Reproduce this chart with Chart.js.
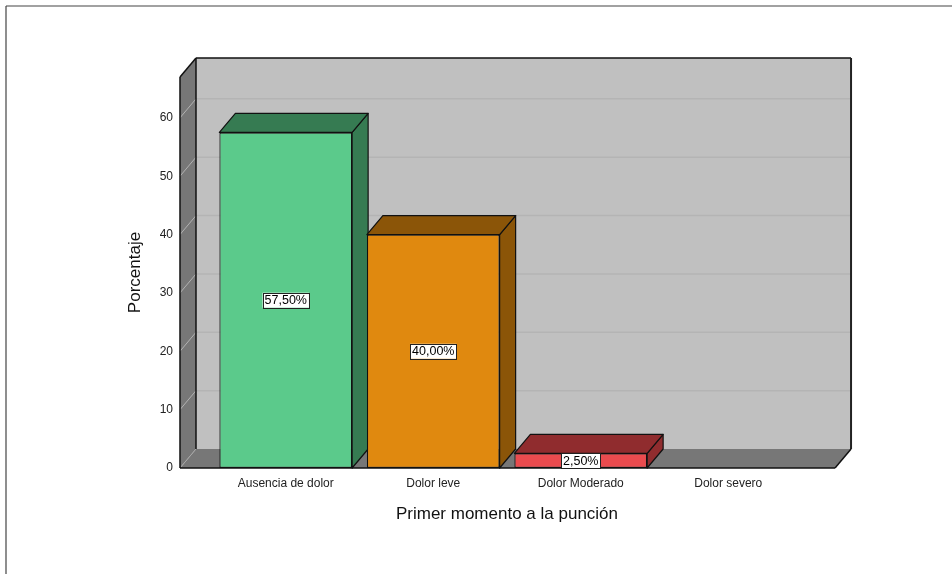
<!DOCTYPE html>
<html>
<head>
<meta charset="utf-8">
<title>Primer momento a la punción</title>
<script src="https://cdn.jsdelivr.net/npm/chart.js"></script>
<style>
    * { margin: 0; padding: 0; box-sizing: border-box; }
    body { background: #fff; width: 952px; height: 574px; overflow: hidden; }
    canvas { display: block; }
</style>
</head>
<body>
<canvas id="grafico" width="952" height="574"></canvas>
<script>
// Datos
const categorias = ['Ausencia de dolor', 'Dolor leve', 'Dolor Moderado', 'Dolor severo'];
const porcentajes = [57.5, 40.0, 2.5, 0];
const etiquetas = ['57,50%', '40,00%', '2,50%', ''];
const ticksY = [0, 10, 20, 30, 40, 50, 60];
const maxY = 67;

// Colores (frente / cara superior y lateral)
const coloresFrente = ['#5bca8b', '#e0890f', '#ea4b4e', '#9c9c9c'];
const coloresLado = ['#367b52', '#8b5508', '#902c2e', '#666666'];

// profundidad del efecto 3D
const DX = 16, DY = 19;
const fuente = '"Liberation Sans", Arial, sans-serif';

function poligono(ctx, pts, relleno, borde, ancho) {
    ctx.beginPath();
    ctx.moveTo(pts[0][0], pts[0][1]);
    for (let i = 1; i < pts.length; i++) ctx.lineTo(pts[i][0], pts[i][1]);
    ctx.closePath();
    if (relleno) { ctx.fillStyle = relleno; ctx.fill(); }
    if (borde) { ctx.strokeStyle = borde; ctx.lineWidth = ancho || 1; ctx.stroke(); }
}

function linea(ctx, x1, y1, x2, y2, color, ancho) {
    ctx.beginPath();
    ctx.moveTo(x1, y1);
    ctx.lineTo(x2, y2);
    ctx.strokeStyle = color;
    ctx.lineWidth = ancho;
    ctx.stroke();
}

const efecto3d = {
    id: 'efecto3d',
    beforeDraw(chart) {
        const ctx = chart.ctx;
        ctx.save();
        // marco del visor
        linea(ctx, 6, 6, chart.width, 6, '#444', 1.2);
        linea(ctx, 6, 6, 6, chart.height, '#444', 1.2);
        ctx.restore();
    },
    beforeDatasetsDraw(chart) {
        const ctx = chart.ctx;
        const x = chart.scales.x, y = chart.scales.y;
        const banda = x.getPixelForValue(1) - x.getPixelForValue(0);
        const xL = chart.chartArea.left - 0.217 * banda;
        const xR = chart.chartArea.right + 0.224 * banda;
        const y0 = y.getPixelForValue(0);
        const yT = y.getPixelForValue(maxY);

        ctx.save();
        // pared del fondo
        ctx.fillStyle = '#c0c0c0';
        ctx.fillRect(xL + DX, yT - DY, xR - xL, y0 - yT);
        ticksY.forEach(v => {
            if (v === 0) return;
            const py = y.getPixelForValue(v);
            linea(ctx, xL + DX, py - DY, xR + DX, py - DY, '#b4b4b4', 1.5);
        });
        // pared izquierda
        poligono(ctx, [[xL, y0], [xL, yT], [xL + DX, yT - DY], [xL + DX, y0 - DY]], '#777777');
        ticksY.forEach(v => {
            if (v === 0) return;
            const py = y.getPixelForValue(v);
            linea(ctx, xL, py, xL + DX, py - DY, '#b2b2b2', 1);
        });
        // suelo
        poligono(ctx, [[xL, y0], [xR, y0], [xR + DX, y0 - DY], [xL + DX, y0 - DY]], '#777777');
        linea(ctx, xL, y0, xL + DX, y0 - DY, '#a8a8a8', 1);

        // bordes
        ctx.lineJoin = 'round';
        linea(ctx, xL, y0, xL, yT, '#111', 1.5);
        linea(ctx, xL, yT, xL + DX, yT - DY, '#111', 1.5);
        linea(ctx, xL + DX, yT - DY, xR + DX, yT - DY, '#111', 1.5);
        linea(ctx, xL + DX, yT - DY, xL + DX, y0 - DY, '#111', 1.5);
        linea(ctx, xR + DX, yT - DY, xR + DX, y0 - DY, '#222', 2);
        linea(ctx, xR + DX, y0 - DY, xR, y0, '#111', 1.5);
        linea(ctx, xL, y0, xR, y0, '#111', 1.5);

        // caras superior y lateral de las barras
        const meta = chart.getDatasetMeta(0);
        meta.data.forEach((barra, i) => {
            if (!porcentajes[i]) return;
            const { x: bx, y: by, base, width } = barra.getProps(['x', 'y', 'base', 'width'], true);
            const l = bx - width / 2, r = bx + width / 2;
            poligono(ctx, [[r, by], [r + DX, by - DY], [r + DX, base - DY], [r, base]], coloresLado[i], '#111', 1.2);
            poligono(ctx, [[l, by], [r, by], [r + DX, by - DY], [l + DX, by - DY]], coloresLado[i], '#111', 1.2);
        });
        ctx.restore();
    },
    afterDatasetsDraw(chart) {
        const ctx = chart.ctx;
        const meta = chart.getDatasetMeta(0);
        ctx.save();
        ctx.font = '12.5px ' + fuente;
        ctx.textAlign = 'center';
        ctx.textBaseline = 'middle';
        meta.data.forEach((barra, i) => {
            if (!etiquetas[i]) return;
            const { x: bx, y: by, base } = barra.getProps(['x', 'y', 'base'], true);
            const cy = (by + base) / 2;
            const w = ctx.measureText(etiquetas[i]).width + 4;
            const h = 15;
            ctx.fillStyle = '#fff';
            ctx.fillRect(bx - w / 2, cy - h / 2, w, h);
            ctx.strokeStyle = '#222';
            ctx.lineWidth = 1;
            ctx.strokeRect(Math.round(bx - w / 2) + 0.5, Math.round(cy - h / 2) + 0.5, Math.round(w), h);
            ctx.fillStyle = '#000';
            ctx.fillText(etiquetas[i], bx, cy + 0.5);
        });
        ctx.restore();
    }
};

const ctx = document.getElementById('grafico').getContext('2d');
const chart = new Chart(ctx, {
    type: 'bar',
    data: {
        labels: categorias,
        datasets: [{
            data: porcentajes,
            backgroundColor: coloresFrente,
            borderColor: '#111',
            borderWidth: 1.2,
            borderSkipped: false,
            categoryPercentage: 1.0,
            barPercentage: 0.9
        }]
    },
    options: {
        responsive: false,
        animation: false,
        layout: { padding: { left: 125, right: 150, top: 77, bottom: 49 } },
        plugins: {
            legend: { display: false },
            tooltip: { enabled: false }
        },
        scales: {
            x: {
                grid: { display: false, drawTicks: false },
                border: { display: false },
                ticks: { color: '#222', font: { family: fuente, size: 12 }, padding: 8, maxRotation: 0 },
                title: {
                    display: true,
                    text: 'Primer momento a la punción',
                    color: '#111',
                    font: { family: fuente, size: 17 },
                    padding: 0
                },
                afterFit: s => { s.height = 57; }
            },
            y: {
                min: 0,
                max: maxY,
                grid: { display: false, drawTicks: false },
                border: { display: false },
                ticks: {
                    stepSize: 10,
                    includeBounds: false,
                    color: '#222',
                    font: { family: fuente, size: 12 },
                    padding: 8 + 31
                },
                afterBuildTicks: s => { s.ticks = ticksY.map(v => ({ value: v })); },
                title: {
                    display: true,
                    text: 'Porcentaje',
                    color: '#111',
                    font: { family: fuente, size: 17 },
                    padding: 0
                },
                afterFit: s => { s.width = 87; }
            }
        }
    },
    plugins: [efecto3d]
});
</script>
</body>
</html>
